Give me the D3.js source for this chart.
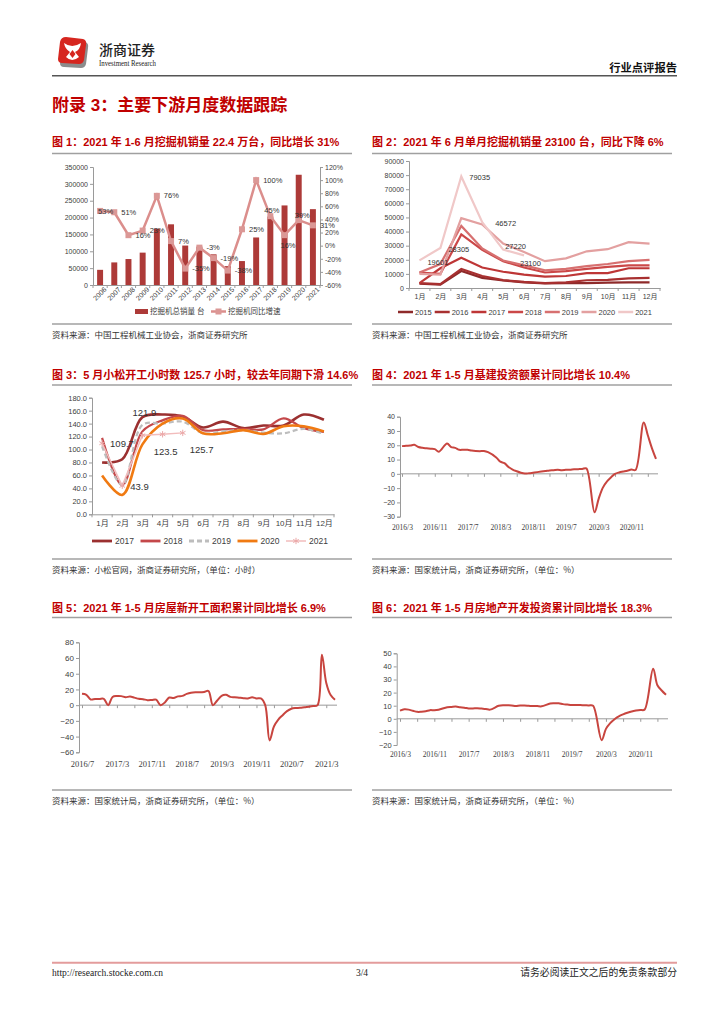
<!DOCTYPE html>
<html>
<head>
<meta charset="utf-8">
<script src="https://cdn.jsdelivr.net/npm/d3@7"></script>
<style>
  body { margin: 0; background: #fff; }
</style>
</head>
<body>
<div id="page"></div>
<script>
// ---- data ----
// fig 1: annual excavator sales and yoy
const years = ["2006","2007","2008","2009","2010","2011","2012","2013","2014","2015","2016","2017","2018","2019","2020","2021"];
const excavatorSales = [45000, 67000, 77000, 96000, 167000, 180000, 117000, 114000, 91000, 56000, 71000, 141000, 203000, 236000, 327000, 225000];
const excavatorYoY = [53, 51, 16, 23, 76, 7, -35, -3, -19, -38, 25, 100, 45, 16, 39, 31];

// fig 2: monthly excavator sales by year
const months = ["1月","2月","3月","4月","5月","6月","7月","8月","9月","10月","11月","12月"];
const salesYears = ["2015","2016","2017","2018","2019","2020","2021"];
const sales2015 = [3000, 2400, 12000, 7200, 5300, 4000, 3200, 3400, 3500, 3800, 4000, 4000];
const sales2016 = [3500, 2700, 13500, 8500, 5600, 4300, 3500, 4000, 5500, 5800, 6800, 7200];
const sales2017 = [3500, 14000, 21500, 14500, 11500, 9500, 8000, 8500, 10500, 10500, 14000, 14000];
const sales2018 = [11000, 10000, 38000, 27000, 19000, 14500, 11000, 12000, 13500, 15000, 16000, 16000];
const sales2019 = [11000, 17000, 44000, 28000, 19500, 16000, 12500, 13500, 15500, 17000, 19000, 20000];
const sales2020 = [10000, 9500, 49500, 45000, 31500, 25500, 19000, 21000, 26000, 27500, 32500, 31500];
const sales2021 = [19601, 28305, 79035, 46572, 27220, 23100];

// fig 3: komatsu working hours
const hoursYears = ["2017","2018","2019","2020","2021"];
const hours2017 = [80, 85, 150, 154, 151, 134, 143, 133, 137, 137, 154, 146];
const hours2018 = [118, 45, 128, 145, 152, 130, 131, 132, 131, 148, 133, 127];
const hours2019 = [105, 45, 138, 140, 143, 125, 128, 130, 126, 125, 132, 124];
const hours2020 = [60, 30, 108, 140, 148, 125, 125, 130, 124, 136, 136, 128];
const hours2021 = [109.7, 43.9, 121.9, 123.5, 125.7];

// fig 4: infrastructure investment, cumulative yoy (%), 2016/3 - 2021/5, no January
const infraYoY = [
  19.4, 19.7, 19.8, 20.3, 18.8, 18.2, 17.9, 17.6, 17.3, 15.5,
  21.3, 18.7, 18.2, 16.8, 16.9, 16.9, 16.3, 16.0, 15.9, 16.0, 15.2,
  11.5, 8.5, 7.5, 4.8, 3.0, 1.8, 0.8, 0.2, 0.4, 0.8, 1.2,
  2.0, 2.4, 2.6, 2.9, 2.6, 2.8, 2.9, 3.2, 3.3, 3.4, 3.8,
  -26.9, -17.5, -9.8, -5.5, -2.5, 0.0, 1.0, 1.6, 2.2, 3.0, 2.7,
  36.0, 27.0, 18.0, 10.4
];
// fig 5: new housing starts area, cumulative yoy (%), 2016/7 - 2021/5, January plotted as 0
const startsYoY = [
  14.4, 13.2, 7.2, 7.8, 7.9, 8.1,
  0, 10.4, 11.6, 11.5, 10.2, 10.9, 9.6, 8.1, 7.6, 6.4, 6.6, 7.0,
  0, 3.5, 9.7, 9.0, 11.2, 11.8, 14.4, 15.9, 16.4, 16.3, 16.8, 18.0,
  0, 6.0, 11.9, 13.1, 10.5, 10.1, 9.5, 8.9, 8.6, 10.0, 8.6, 8.5,
  0, -44.9, -27.2, -18.4, -12.8, -7.6, -4.5, -3.6, -3.4, -2.6, -2.0, -1.2,
  0, 64.3, 28.2, 12.8, 6.9
];
// fig 6: real estate development investment, cumulative yoy (%), 2016/3 - 2021/5, no January
const estateYoY = [
  6.2, 7.2, 7.0, 6.1, 5.3, 5.4, 5.8, 6.6, 6.5, 6.9,
  8.9, 9.1, 9.3, 8.8, 8.5, 7.9, 7.9, 8.1, 7.8, 7.5, 7.0,
  9.9, 10.4, 10.3, 10.2, 9.7, 10.2, 10.1, 9.9, 9.7, 9.7, 9.5,
  11.6, 11.8, 11.9, 11.2, 10.9, 10.6, 10.5, 10.5, 10.3, 10.2, 9.9,
  -16.3, -7.7, -3.3, -0.3, 1.9, 3.4, 4.6, 5.6, 6.3, 6.8, 7.0,
  38.3, 25.6, 21.6, 18.3
];

// ---- helpers ----
const SANS = '"Liberation Sans", Arial, "Noto Sans CJK SC", sans-serif';
const SERIF = '"Liberation Serif", "Times New Roman", "Noto Sans CJK SC", serif';
const RED = "#C00000";
const GRID = "#9A9A9A";

// month index counted from 2016/1
const monthIdx = (y, m) => (y - 2016) * 12 + (m - 1);
const idxLabel = i => `${2016 + Math.floor(i / 12)}/${(i % 12) + 1}`;

function monthList(y, m, n, skipJan) {
  const out = [];
  while (out.length < n) {
    if (!(skipJan && m === 1)) out.push(monthIdx(y, m));
    m++;
    if (m > 12) { m = 1; y++; }
  }
  return out;
}

function styleAxis(g, size, family) {
  g.selectAll(".domain").attr("stroke", GRID);
  g.selectAll(".tick line").attr("stroke", GRID);
  g.selectAll("text")
      .attr("fill", "#404040")
      .attr("font-size", size)
      .attr("font-family", family || SANS);
}

const svg = d3.select("#page").append("svg")
    .attr("width", 724)
    .attr("height", 1024)
    .attr("font-family", SANS);

svg.append("rect").attr("width", 724).attr("height", 1024).attr("fill", "#fff");

// ---- header ----
const logo = svg.append("g").attr("transform", "translate(58,37)");
logo.append("path")
    .attr("d", "M4,8 Q5,3 10,3 L27,5 Q31,6 30,11 L28,27 Q27,31 23,31 L6,30 Q2,30 2,26 Z")
    .attr("fill", "#8c8c8c");
logo.append("path")
    .attr("d", "M2,5 Q3,0 8,0 L25,2 Q29,3 28,8 L26,23 Q25,27 21,27 L4,26 Q0,26 0,22 Z")
    .attr("fill", "#D6261F");
logo.append("path")
    .attr("d", "M6,6 Q14,12 23,6 Q22,13 17,15 L21,20 Q14,26 8,20 L12,15 Q7,12 6,6 Z")
    .attr("fill", "#fff");
logo.append("path").attr("d", "M14.5,13 L17.5,17 L14.5,21 L11.5,17 Z").attr("fill", "#D6261F");

svg.append("text").attr("x", 99).attr("y", 55)
    .attr("font-family", '"Noto Sans CJK SC"').attr("font-size", 14).attr("font-weight", 500)
    .attr("fill", "#222").text("浙商证券");
svg.append("text").attr("x", 99).attr("y", 66)
    .attr("font-family", SERIF).attr("font-size", 8)
    .attr("textLength", 57).attr("lengthAdjust", "spacingAndGlyphs")
    .attr("fill", "#222").text("Investment Research");
svg.append("text").attr("x", 677).attr("y", 71.5).attr("text-anchor", "end")
    .attr("font-size", 11.3).attr("font-weight", "bold").attr("fill", "#111").text("行业点评报告");
svg.append("line").attr("x1", 52).attr("x2", 677).attr("y1", 75.7).attr("y2", 75.7)
    .attr("stroke", "#555").attr("stroke-width", 1.5);

svg.append("text").attr("x", 52).attr("y", 111)
    .attr("font-size", 17).attr("font-weight", "bold").attr("fill", RED)
    .text("附录 3：主要下游月度数据跟踪");

// panel frame: title, rules, source
function panel(x0, x1, titleY, topRule, bottomRule, title, source) {
  svg.append("text").attr("x", x0).attr("y", titleY)
      .attr("font-size", 11).attr("font-weight", "bold").attr("fill", RED).text(title);
  [topRule, bottomRule].forEach(y => svg.append("line")
      .attr("x1", x0).attr("x2", x1).attr("y1", y).attr("y2", y)
      .attr("stroke", "#A0A0A0").attr("stroke-width", 1.5));
  svg.append("text").attr("x", x0).attr("y", bottomRule + 14)
      .attr("font-family", '"Noto Sans CJK SC"').attr("font-size", 8.5).attr("fill", "#333").text(source);
}

panel(52, 352, 146, 153.5, 324, "图 1：2021 年 1-6 月挖掘机销量 22.4 万台，同比增长 31%", "资料来源：中国工程机械工业协会，浙商证券研究所");
panel(372, 672, 146, 153.5, 324, "图 2：2021 年 6 月单月挖掘机销量 23100 台，同比下降 6%", "资料来源：中国工程机械工业协会，浙商证券研究所");
panel(52, 352, 379, 385, 559, "图 3：5 月小松开工小时数 125.7 小时，较去年同期下滑 14.6%", "资料来源：小松官网，浙商证券研究所，（单位：小时）");
panel(372, 672, 379, 385, 559, "图 4：2021 年 1-5 月基建投资额累计同比增长 10.4%", "资料来源：国家统计局，浙商证券研究所，（单位：%）");
panel(52, 352, 612, 617.5, 790, "图 5：2021 年 1-5 月房屋新开工面积累计同比增长 6.9%", "资料来源：国家统计局，浙商证券研究所，（单位：%）");
panel(372, 672, 612, 617.5, 790, "图 6：2021 年 1-5 月房地产开发投资累计同比增长 18.3%", "资料来源：国家统计局，浙商证券研究所，（单位：%）");

// ---- fig 1 ----
{
  const x = d3.scaleBand().domain(years).range([93, 320]).paddingInner(0.58).paddingOuter(0.29);
  const yL = d3.scaleLinear().domain([0, 350000]).range([285, 167]);
  const yR = d3.scaleLinear().domain([-60, 120]).range([285, 167]);
  const cx = d => x(d) + x.bandwidth() / 2;
  const step = x.step();

  svg.append("g").attr("transform", "translate(93,0)")
      .call(d3.axisLeft(yL).tickValues(d3.range(0, 350001, 50000)).tickFormat(d3.format("d")).tickSize(3).tickPadding(2))
      .call(g => styleAxis(g, 7));
  svg.append("g").attr("transform", "translate(320,0)")
      .call(d3.axisRight(yR).tickValues(d3.range(-60, 121, 20)).tickFormat(d => d + "%").tickSize(3).tickPadding(2))
      .call(g => styleAxis(g, 7));
  const xa = svg.append("g").attr("transform", "translate(0,285)")
      .call(d3.axisBottom(x).tickSize(0).tickPadding(5))
      .call(g => styleAxis(g, 7));
  xa.selectAll("text").attr("text-anchor", "end").attr("dx", "0.2em").attr("dy", "0.5em")
      .attr("transform", "rotate(-45)");
  xa.selectAll(".boundary").data(years.concat(["end"])).enter().append("line")
      .attr("x1", (d, i) => 93 + i * step).attr("x2", (d, i) => 93 + i * step)
      .attr("y1", 0).attr("y2", 3).attr("stroke", GRID);

  svg.append("g").selectAll("rect").data(years).enter().append("rect")
      .attr("x", d => x(d)).attr("width", x.bandwidth())
      .attr("y", (d, i) => yL(excavatorSales[i]))
      .attr("height", (d, i) => 285 - yL(excavatorSales[i]))
      .attr("fill", "#AD3A38");

  svg.append("path").datum(excavatorYoY)
      .attr("fill", "none").attr("stroke", "#DB8E8C").attr("stroke-width", 2.5)
      .attr("d", d3.line().x((d, i) => cx(years[i])).y(d => yR(d)));
  svg.append("g").selectAll("rect").data(excavatorYoY).enter().append("rect")
      .attr("x", (d, i) => cx(years[i]) - 3).attr("y", d => yR(d) - 3)
      .attr("width", 6).attr("height", 6).attr("fill", "#DB9896");

  // labels right of markers, a few moved above / below
  const place = { "2018": [-6, -6], "2019": [-4, 10], "2020": [-4, -5], "2006": [-2, 0] };
  svg.append("g").selectAll("text").data(excavatorYoY).enter().append("text")
      .attr("x", (d, i) => cx(years[i]) + (place[years[i]] ? place[years[i]][0] : 7))
      .attr("y", (d, i) => yR(d) + (place[years[i]] ? place[years[i]][1] : 0))
      .attr("dy", "0.35em").attr("font-size", 7.5).attr("fill", "#333")
      .text(d => d + "%");

  // legend
  svg.append("rect").attr("x", 135).attr("y", 309).attr("width", 13).attr("height", 5).attr("fill", "#AD3A38");
  svg.append("text").attr("x", 150).attr("y", 314).attr("font-size", 7.5).attr("fill", "#404040").text("挖掘机总销量 台");
  svg.append("line").attr("x1", 211).attr("x2", 226).attr("y1", 311.5).attr("y2", 311.5).attr("stroke", "#DB8E8C").attr("stroke-width", 2.5);
  svg.append("rect").attr("x", 215.5).attr("y", 308.5).attr("width", 6).attr("height", 6).attr("fill", "#DB9896");
  svg.append("text").attr("x", 228).attr("y", 314).attr("font-size", 7.5).attr("fill", "#404040").text("挖掘机同比增速");
}

// ---- fig 2 ----
{
  const x = d3.scalePoint().domain(months).range([409, 660]).padding(0.5);
  const y = d3.scaleLinear().domain([0, 90000]).range([288, 161]);
  const step = x.step();
  const colors = ["#8E2A2A", "#A83030", "#BE3636", "#CB4848", "#D77070", "#E3A0A0", "#F0C8C8"];
  const series = [sales2015, sales2016, sales2017, sales2018, sales2019, sales2020, sales2021];

  svg.append("g").attr("transform", "translate(409,0)")
      .call(d3.axisLeft(y).tickValues(d3.range(0, 90001, 10000)).tickFormat(d3.format("d")).tickSize(3).tickPadding(2))
      .call(g => styleAxis(g, 7));
  const xa = svg.append("g").attr("transform", "translate(0,288)")
      .call(d3.axisBottom(x).tickSize(0).tickPadding(6))
      .call(g => styleAxis(g, 7));
  xa.selectAll(".boundary").data(months.concat(["end"])).enter().append("line")
      .attr("x1", (d, i) => 409 + i * step).attr("x2", (d, i) => 409 + i * step)
      .attr("y1", 0).attr("y2", 3).attr("stroke", GRID);

  const line = d3.line().x((d, i) => x(months[i])).y(d => y(d));
  svg.append("g").selectAll("path").data(series).enter().append("path")
      .attr("fill", "none").attr("stroke", (d, i) => colors[i]).attr("stroke-width", 2.2)
      .attr("d", line);

  const notes = [[0, 8, 2], [1, 8, 1], [2, 8, 1], [3, 13, 1], [4, 2, -3], [5, -4, 8]];
  svg.append("g").selectAll("text").data(notes).enter().append("text")
      .attr("x", d => x(months[d[0]]) + d[1])
      .attr("y", d => y(sales2021[d[0]]) + d[2])
      .attr("dy", "0.35em").attr("font-size", 7.5).attr("fill", "#333")
      .text(d => sales2021[d[0]]);

  const lg = svg.append("g").selectAll("g").data(salesYears).enter().append("g")
      .attr("transform", (d, i) => `translate(${398 + i * 36.7},312)`);
  lg.append("line").attr("x1", 0).attr("x2", 15).attr("stroke", (d, i) => colors[i]).attr("stroke-width", 2.5);
  lg.append("text").attr("x", 17).attr("dy", "0.35em").attr("font-size", 7.5).attr("fill", "#404040").text(d => d);
}

// ---- fig 3 ----
{
  const x = d3.scalePoint().domain(months).range([92, 334]).padding(0.5);
  const y = d3.scaleLinear().domain([0, 180]).range([514.3, 397.7]);
  const step = x.step();
  const styles = [
    { c: "#9B3030", w: 2.6, dash: null },
    { c: "#C4484A", w: 2.2, dash: null },
    { c: "#BDBDBD", w: 2.2, dash: "5,3" },
    { c: "#F07A12", w: 2.6, dash: null },
    { c: "#F2BCBC", w: 1.5, dash: null }
  ];
  const series = [hours2017, hours2018, hours2019, hours2020, hours2021];

  svg.append("g").attr("transform", "translate(92,0)")
      .call(d3.axisLeft(y).tickValues(d3.range(0, 181, 20)).tickFormat(d3.format(".1f")).tickSize(3).tickPadding(2))
      .call(g => styleAxis(g, 7.5));
  const xa = svg.append("g").attr("transform", "translate(0,514.3)")
      .call(d3.axisBottom(x).tickSize(0).tickPadding(6))
      .call(g => styleAxis(g, 8));
  xa.selectAll(".boundary").data(months.concat(["end"])).enter().append("line")
      .attr("x1", (d, i) => 92 + i * step).attr("x2", (d, i) => 92 + i * step)
      .attr("y1", 0).attr("y2", 3).attr("stroke", GRID);

  svg.append("g").selectAll("path").data(series).enter().append("path")
      .attr("fill", "none")
      .attr("stroke", (d, i) => styles[i].c)
      .attr("stroke-width", (d, i) => styles[i].w)
      .attr("stroke-dasharray", (d, i) => styles[i].dash)
      .attr("d", (d, i) => d3.line()
          .x((v, j) => x(months[j])).y(v => y(v))
          .curve(i === 4 ? d3.curveLinear : d3.curveCatmullRom.alpha(0.5))(d));

  svg.append("g").selectAll("path").data(hours2021).enter().append("path")
      .attr("transform", (d, i) => `translate(${x(months[i])},${y(d)})`)
      .attr("d", d3.symbol(d3.symbolAsterisk, 28))
      .attr("fill", "none").attr("stroke", "#EBA8A8").attr("stroke-width", 1);

  const notes = [[0, 8, 0, "start"], [1, 8, 1, "start"], [2, 2, -23, "middle"], [3, 3, 17, "middle"], [4, 7, 17, "start"]];
  svg.append("g").selectAll("text").data(notes).enter().append("text")
      .attr("x", d => x(months[d[0]]) + d[1])
      .attr("y", d => y(hours2021[d[0]]) + d[2])
      .attr("dy", "0.35em").attr("text-anchor", d => d[3])
      .attr("font-size", 9.5).attr("fill", "#333")
      .text(d => hours2021[d[0]]);

  const lg = svg.append("g").selectAll("g").data(hoursYears).enter().append("g")
      .attr("transform", (d, i) => `translate(${92 + i * 48.5},541)`);
  lg.append("line").attr("x1", 0).attr("x2", 20)
      .attr("stroke", (d, i) => styles[i].c)
      .attr("stroke-width", (d, i) => i === 4 ? 1.5 : 2.8)
      .attr("stroke-dasharray", (d, i) => styles[i].dash);
  lg.filter((d, i) => i === 4).append("path").attr("transform", "translate(10,0)")
      .attr("d", d3.symbol(d3.symbolAsterisk, 28)).attr("fill", "none").attr("stroke", "#EBA8A8");
  lg.append("text").attr("x", 23).attr("dy", "0.35em").attr("font-size", 8.5).attr("fill", "#404040").text(d => d);
}

// ---- figs 4-6: monthly yoy lines ----
function yoyChart(o) {
  const x = d3.scaleLinear().domain(o.xDomain).range(o.xRange);
  const y = d3.scaleLinear().domain(o.yDomain).range(o.yRange);
  const y0 = y(0);

  svg.append("g").attr("transform", `translate(${o.axisX},0)`)
      .call(d3.axisLeft(y).tickValues(d3.range(o.yDomain[0], o.yDomain[1] + 1, o.yStep)).tickSize(3).tickPadding(2))
      .call(g => styleAxis(g, o.yFont));

  svg.append("line").attr("x1", o.axisX).attr("x2", o.axisEnd).attr("y1", y0).attr("y2", y0).attr("stroke", GRID);
  svg.append("g").attr("transform", `translate(0,${y0})`)
      .call(d3.axisBottom(x).tickValues(d3.range(o.xDomain[0], o.xDomain[1] + 1, 4)).tickFormat("").tickSize(3))
      .call(g => { styleAxis(g, 7); g.select(".domain").remove(); });
  svg.append("g").attr("transform", `translate(0,${o.yRange[0]})`)
      .call(d3.axisBottom(x).tickValues(d3.range(o.xDomain[0], o.xDomain[1] + 1, 8)).tickFormat(idxLabel).tickSize(0).tickPadding(o.labelPad))
      .call(g => { styleAxis(g, o.xFont, SERIF); g.select(".domain").remove(); });

  svg.append("path").datum(o.values)
      .attr("fill", "none").attr("stroke", "#C8453F").attr("stroke-width", 2)
      .attr("d", d3.line().x((d, i) => x(o.months[i])).y(d => y(d)).curve(d3.curveCatmullRom.alpha(0.5)));
}

yoyChart({
  values: infraYoY, months: monthList(2016, 3, infraYoY.length, true),
  xDomain: [monthIdx(2016, 3), monthIdx(2021, 5)], xRange: [402, 656],
  yDomain: [-30, 40], yRange: [516.7, 416.7], yStep: 10,
  axisX: 400, axisEnd: 658, yFont: 7, xFont: 7.5, labelPad: 8
});
yoyChart({
  values: startsYoY, months: monthList(2016, 7, startsYoY.length, false),
  xDomain: [monthIdx(2016, 7), monthIdx(2021, 5)], xRange: [82, 335],
  yDomain: [-60, 80], yRange: [752.3, 642.3], yStep: 20,
  axisX: 79, axisEnd: 337, yFont: 8, xFont: 8.5, labelPad: 9
});
yoyChart({
  values: estateYoY, months: monthList(2016, 3, estateYoY.length, true),
  xDomain: [monthIdx(2016, 3), monthIdx(2021, 5)], xRange: [400, 666],
  yDomain: [-20, 50], yRange: [745, 653.3], yStep: 10,
  axisX: 396.7, axisEnd: 668, yFont: 7.5, xFont: 7.5, labelPad: 7
});

// ---- footer ----
svg.append("line").attr("x1", 52).attr("x2", 677).attr("y1", 962.7).attr("y2", 962.7)
    .attr("stroke", "#E39C9C").attr("stroke-width", 2);
svg.append("text").attr("x", 52).attr("y", 976).attr("font-family", SERIF).attr("font-size", 9.5).attr("fill", "#222")
    .text("http://research.stocke.com.cn");
svg.append("text").attr("x", 362).attr("y", 976).attr("text-anchor", "middle").attr("font-family", SERIF).attr("font-size", 9.5).attr("fill", "#222")
    .text("3/4");
svg.append("text").attr("x", 677).attr("y", 976).attr("text-anchor", "end").attr("font-family", '"Noto Sans CJK SC"').attr("font-size", 9.8).attr("fill", "#222")
    .text("请务必阅读正文之后的免责条款部分");
</script>
</body>
</html>
